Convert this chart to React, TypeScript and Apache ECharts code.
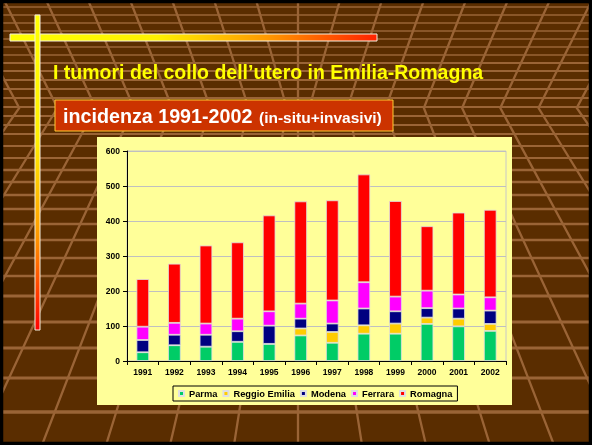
import React, { useEffect, useRef } from 'react';
import * as echarts from 'echarts';

// ---- data ----
const years = ['1991', '1992', '1993', '1994', '1995', '1996', '1997', '1998', '1999', '2000', '2001', '2002'];
const parma = [25, 45, 41, 55, 49, 73, 52, 78, 78, 106, 99, 86];
const reggioEmilia = [0, 0, 0, 0, 0, 20, 31, 24, 29, 18, 22, 20];
const modena = [35, 30, 34, 30, 52, 28, 24, 48, 35, 27, 29, 38];
const ferrara = [38, 34, 32, 36, 41, 43, 66, 75, 42, 50, 40, 38];
const romagna = [136, 169, 223, 218, 274, 292, 286, 308, 273, 184, 234, 250];
const seriesNames = ['Parma', 'Reggio Emilia', 'Modena', 'Ferrara', 'Romagna'];
const seriesData = [parma, reggioEmilia, modena, ferrara, romagna];
const seriesColors = ['#00CC66', '#FFCC00', '#000080', '#FF00FF', '#FF0000'];
const titleText = 'I tumori del collo dell\u2019utero in Emilia-Romagna';
const subtitleMain = 'incidenza 1991-2002';
const subtitleSmall = '(in-situ+invasivi)';

// ---- layout / decoration ----
const W = 592;
const H = 445;
const FONT = "'Liberation Sans', Arial, Helvetica, sans-serif";
const GRID_COLOR = '#9a6436';
const hLines = [7, 15, 23, 31, 39, 47, 55, 63, 71, 80, 89, 98, 107, 116, 125, 134, 146, 158, 170, 182, 195, 209, 224, 240, 258, 276, 296, 322, 348, 378, 412];

function buildBackground(): any[] {
  const els: any[] = [];
  els.push({ type: 'rect', z: -20, silent: true, shape: { x: 0, y: 0, width: W, height: H }, style: { fill: '#5a2d00' } });
  hLines.forEach((y) => {
    els.push({ type: 'line', z: -19, silent: true, shape: { x1: 0, y1: y, x2: W, y2: y }, style: { stroke: GRID_COLOR, lineWidth: 1.5 + (2 * y) / H } });
  });
  for (let j = -9; j <= 9; j++) {
    const a = Math.abs(j);
    const s = Math.sign(j);
    const T = 298 + 42 * j;
    const slope = 0.25 + 0.035 * a;
    const M = T - s * slope * 108;
    const B = 298 + 64 * j;
    els.push({ type: 'polyline', z: -19, silent: true, shape: { points: [[T, 0], [M, 108], [B, H]] }, style: { stroke: GRID_COLOR, lineWidth: 2.3, fill: null } });
  }
  // black frame
  els.push({ type: 'rect', z: -18, silent: true, shape: { x: 1.5, y: 1.5, width: W - 3, height: H - 3 }, style: { fill: null, stroke: '#000', lineWidth: 3.5 } });
  // chart panel
  els.push({ type: 'rect', z: -15, silent: true, shape: { x: 97, y: 137, width: 415, height: 268 }, style: { fill: '#FFFF99' } });
  // horizontal gradient bar
  els.push({
    type: 'rect', z: -14, silent: true, shape: { x: 10, y: 34, width: 367, height: 7 },
    style: {
      fill: { type: 'linear', x: 0, y: 0, x2: 1, y2: 0, colorStops: [
        { offset: 0, color: '#FFFF00' }, { offset: 0.4, color: '#FFF200' }, { offset: 0.7, color: '#FF9900' }, { offset: 1, color: '#FF2200' },
      ] },
      stroke: '#f4f0e0', lineWidth: 1,
    },
  });
  // vertical gradient bar
  els.push({
    type: 'rect', z: -13, silent: true, shape: { x: 35, y: 15, width: 5, height: 315 },
    style: {
      fill: { type: 'linear', x: 0, y: 0, x2: 0, y2: 1, colorStops: [
        { offset: 0, color: '#FFFF00' }, { offset: 0.4, color: '#FFEE00' }, { offset: 0.7, color: '#FF9900' }, { offset: 1, color: '#FF0000' },
      ] },
      stroke: '#f4f0e0', lineWidth: 1,
    },
  });
  // title
  els.push({
    type: 'text', z: -12, silent: true, x: 53, y: 72,
    style: {
      text: titleText, fill: '#FFFF00', font: `bold 19.5px ${FONT}`,
      align: 'left', verticalAlign: 'middle', textAlign: 'left', textVerticalAlign: 'middle',
      shadowColor: '#000', shadowOffsetX: 1.5, shadowOffsetY: 1.5, shadowBlur: 1,
    },
  });
  // subtitle box
  els.push({ type: 'rect', z: -12, silent: true, shape: { x: 55, y: 100, width: 338, height: 31 }, style: { fill: '#CC3300', stroke: '#FFCC33', lineWidth: 1 } });
  els.push({
    type: 'text', z: -11, silent: true, x: 63, y: 116,
    style: {
      text: subtitleMain, fill: '#FFFFFF', font: `bold 19.7px ${FONT}`,
      align: 'left', verticalAlign: 'middle', textAlign: 'left', textVerticalAlign: 'middle',
      shadowColor: '#000', shadowOffsetX: 1.5, shadowOffsetY: 1.5, shadowBlur: 1,
    },
  });
  els.push({
    type: 'text', z: -11, silent: true, x: 259, y: 117.5,
    style: {
      text: subtitleSmall, fill: '#FFFFFF', font: `bold 15.5px ${FONT}`,
      align: 'left', verticalAlign: 'middle', textAlign: 'left', textVerticalAlign: 'middle',
      shadowColor: '#000', shadowOffsetX: 1.2, shadowOffsetY: 1.2, shadowBlur: 1,
    },
  });
  return els;
}

const axisLabelStyle = { fontSize: 8.5, fontWeight: 'bold' as const, color: '#000', fontFamily: FONT };

function buildOption(): any {
  return {
    animation: false,
    backgroundColor: 'transparent',
    graphic: { elements: buildBackground() },
    grid: { left: 127, right: 86, top: 151, bottom: 84, show: true, borderColor: '#c8c8c8', borderWidth: 1, backgroundColor: 'transparent' },
    legend: {
      data: seriesNames,
      left: 173,
      top: 386,
      icon: 'rect',
      itemWidth: 5,
      itemHeight: 5,
      itemGap: 5,
      padding: [3, 5, 3, 5],
      borderColor: '#000',
      borderWidth: 1,
      textStyle: { fontSize: 9.3, fontWeight: 'bold', color: '#000', fontFamily: FONT },
    },
    xAxis: {
      type: 'category',
      data: years,
      axisLine: { lineStyle: { color: '#000', width: 1 } },
      axisTick: { show: true, length: 4, lineStyle: { color: '#000' } },
      axisLabel: { ...axisLabelStyle, margin: 6 },
      splitLine: { show: false },
    },
    yAxis: {
      type: 'value',
      min: 0,
      max: 600,
      interval: 100,
      axisLine: { show: true, lineStyle: { color: '#000', width: 1 } },
      axisTick: { show: true, length: 4, lineStyle: { color: '#000' } },
      axisLabel: { ...axisLabelStyle, margin: 7 },
      splitLine: { show: true, lineStyle: { color: '#c0c0c0', width: 1 } },
    },
    series: seriesNames.map((name, i) => ({
      name,
      type: 'bar',
      stack: 'total',
      data: seriesData[i],
      barWidth: '40%',
      itemStyle: { color: seriesColors[i], borderColor: '#e0e0e0', borderWidth: 0.8 },
    })),
  };
}

export default function App() {
  const ref = useRef<HTMLDivElement>(null);
  useEffect(() => {
    if (!ref.current) return;
    const chart = echarts.init(ref.current, null, { renderer: 'svg' });
    chart.setOption(buildOption());
    return () => chart.dispose();
  }, []);
  return <div ref={ref} style={{ position: 'fixed', left: 0, top: 0, width: W, height: H }} />;
}
